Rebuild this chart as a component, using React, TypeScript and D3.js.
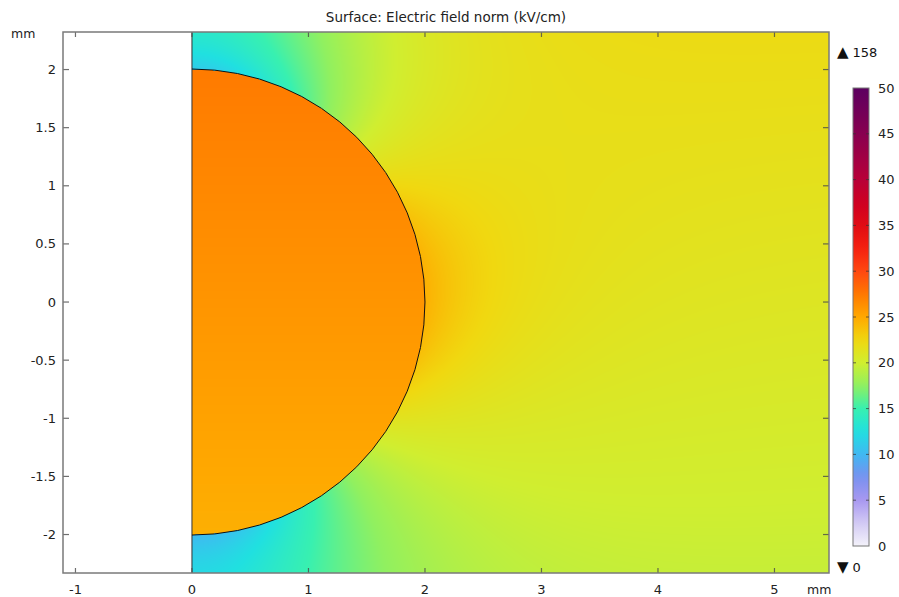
import React, { useEffect, useState } from "react";
import * as d3 from "d3";

// axis ticks (mm)
const xTicks = [-1, 0, 1, 2, 3, 4, 5];
const yTicks = [-2, -1.5, -1, -0.5, 0, 0.5, 1, 1.5, 2];
const xDomain = [-1.107, 5.468];
const yDomain = [-2.331, 2.323];

// colour legend (kV/cm)
const barTicks = [0, 5, 10, 15, 20, 25, 30, 35, 40, 45, 50];
const colorValues = [0, 2.5, 5, 7.5, 10, 12.5, 15, 17.5, 20, 22.5, 25, 27.5, 30, 32.5, 35, 37.5, 40, 45, 50];
const colorHexes = [
  "#f4f2fa", "#d2caf4", "#a898f0", "#7890f0", "#40b8f2", "#20e0e0", "#38f0b0",
  "#90f060", "#d0ee30", "#f0d810", "#ffa800", "#ff7800", "#ff4810", "#f52010",
  "#e00c14", "#cf0022", "#b80038", "#880050", "#5c0060",
];
const maxValue = 158;
const minValue = 0;

// field model: bubble (radius 2 mm) in a z-directed field
const bubbleRadius = 2;
const farField = 20.8; // kV/cm at z = 0
const farSlope = 0.55; // kV/cm per mm along z
const insideRatio = 1.25;
const dipoleZ = [0, 4.66, -4.66]; // bubble dipole and its electrode images
const dipoleK = [-0.2, -0.1, -0.1];

const width = 899;
const height = 597;
const plot = { left: 63, right: 829, top: 32, bottom: 573 };
const bar = { x: 853, w: 16, top: 88, bottom: 546 };
const font = "'DejaVu Sans', sans-serif";

function fieldNorm(r: number, z: number) {
  const e0 = farField + farSlope * z;
  if (r * r + z * z <= bubbleRadius * bubbleRadius) return insideRatio * e0;
  let er = 0;
  let ez = 1;
  dipoleZ.forEach((zc, i) => {
    const dz = z - zc;
    const R = Math.hypot(r, dz);
    const c = dz / R;
    const s = r / R;
    const f = dipoleK[i] * Math.pow(bubbleRadius / R, 3);
    ez += f * (3 * c * c - 1);
    er += f * 3 * c * s;
  });
  return e0 * Math.hypot(er, ez);
}

export default function App() {
  const [href, setHref] = useState("");

  const x = d3.scaleLinear().domain(xDomain).range([plot.left, plot.right]);
  const y = d3.scaleLinear().domain(yDomain).range([plot.bottom, plot.top]);
  const color = d3
    .scaleLinear<string>()
    .domain(colorValues)
    .range(colorHexes)
    .interpolate(d3.interpolateRgb)
    .clamp(true);
  const barScale = d3.scaleLinear().domain([0, 50]).range([bar.bottom, bar.top]);

  useEffect(() => {
    const w = Math.round(plot.right - plot.left);
    const h = Math.round(plot.bottom - plot.top);
    const canvas = document.createElement("canvas");
    canvas.width = w;
    canvas.height = h;
    const ctx = canvas.getContext("2d");
    if (!ctx) return;
    const img = ctx.createImageData(w, h);
    for (let j = 0; j < h; j++) {
      const z = y.invert(plot.top + j + 0.5);
      for (let i = 0; i < w; i++) {
        const r = x.invert(plot.left + i + 0.5);
        const k = (j * w + i) * 4;
        if (r < 0) {
          img.data[k + 3] = 0;
          continue;
        }
        const c = d3.rgb(color(fieldNorm(r, z)));
        img.data[k] = c.r;
        img.data[k + 1] = c.g;
        img.data[k + 2] = c.b;
        img.data[k + 3] = 255;
      }
    }
    ctx.putImageData(img, 0, 0);
    setHref(canvas.toDataURL());
  }, []);

  const arc = d3.path();
  arc.arc(x(0), y(0), x(bubbleRadius) - x(0), -Math.PI / 2, Math.PI / 2, false);

  const gradStops = d3.range(0, 50.01, 1);

  return (
    <svg
      width={width}
      height={height}
      style={{ position: "absolute", left: 0, top: 0, background: "#fff" }}
      fontFamily={font}
    >
      <defs>
        <linearGradient id="bar-grad" x1="0" y1="1" x2="0" y2="0">
          {gradStops.map((v) => (
            <stop key={v} offset={v / 50} stopColor={color(v)} />
          ))}
        </linearGradient>
      </defs>

      <text x={446} y={22} textAnchor="middle" fontSize={13.5} fill="#222">
        Surface: Electric field norm (kV/cm)
      </text>

      {href && (
        <image
          href={href}
          x={plot.left}
          y={plot.top}
          width={plot.right - plot.left}
          height={plot.bottom - plot.top}
          preserveAspectRatio="none"
        />
      )}

      <line x1={x(0)} x2={x(0)} y1={plot.top} y2={plot.bottom} stroke="#333" strokeWidth={1} />
      <path d={arc.toString()} fill="none" stroke="#111" strokeWidth={1} />

      {/* ticks, inward on every side */}
      {xTicks.map((t) => (
        <g key={"x" + t} stroke="#4a4a4a" strokeOpacity={0.8} strokeWidth={1.2}>
          <line x1={x(t)} x2={x(t)} y1={plot.bottom} y2={plot.bottom - 5} />
          <line x1={x(t)} x2={x(t)} y1={plot.top} y2={plot.top + 5} />
        </g>
      ))}
      {yTicks.map((t) => (
        <g key={"y" + t} stroke="#4a4a4a" strokeOpacity={0.8} strokeWidth={1.2}>
          <line x1={plot.left} x2={plot.left + 6} y1={y(t)} y2={y(t)} />
          <line x1={plot.right} x2={plot.right - 6} y1={y(t)} y2={y(t)} />
        </g>
      ))}

      <rect
        x={plot.left}
        y={plot.top}
        width={plot.right - plot.left}
        height={plot.bottom - plot.top}
        fill="none"
        stroke="#7a7a7a"
        strokeWidth={1.5}
      />

      {xTicks.map((t) => (
        <text key={"xl" + t} x={x(t)} y={594} textAnchor="middle" fontSize={13} fill="#222">
          {String(t)}
        </text>
      ))}
      {yTicks.map((t) => (
        <text key={"yl" + t} x={56} y={y(t)} dy="0.35em" textAnchor="end" fontSize={13} fill="#222">
          {String(t)}
        </text>
      ))}
      <text x={11} y={38} fontSize={12.5} fill="#222">mm</text>
      <text x={807} y={594} fontSize={12.5} fill="#222">mm</text>

      {/* colour legend */}
      <text x={837} y={57} fontSize={13} fill="#111">
        <tspan fontSize={15}>{"\u25B2"}</tspan>
        <tspan dx={4}>{String(maxValue)}</tspan>
      </text>
      <rect x={bar.x} y={bar.top} width={bar.w} height={bar.bottom - bar.top} fill="url(#bar-grad)" stroke="#777" strokeWidth={1} />
      {barTicks.map((t) => (
        <g key={"b" + t}>
          {t > 0 && t < 50 && (
            <g stroke="#333" strokeOpacity={0.7} strokeWidth={1}>
              <line x1={bar.x} x2={bar.x + 3} y1={barScale(t)} y2={barScale(t)} />
              <line x1={bar.x + bar.w} x2={bar.x + bar.w - 3} y1={barScale(t)} y2={barScale(t)} />
            </g>
          )}
          <text x={878} y={barScale(t)} dy="0.35em" fontSize={13} fill="#222">
            {String(t)}
          </text>
        </g>
      ))}
      <text x={837} y={572} fontSize={13} fill="#111">
        <tspan fontSize={15}>{"\u25BC"}</tspan>
        <tspan dx={4}>{String(minValue)}</tspan>
      </text>
    </svg>
  );
}
